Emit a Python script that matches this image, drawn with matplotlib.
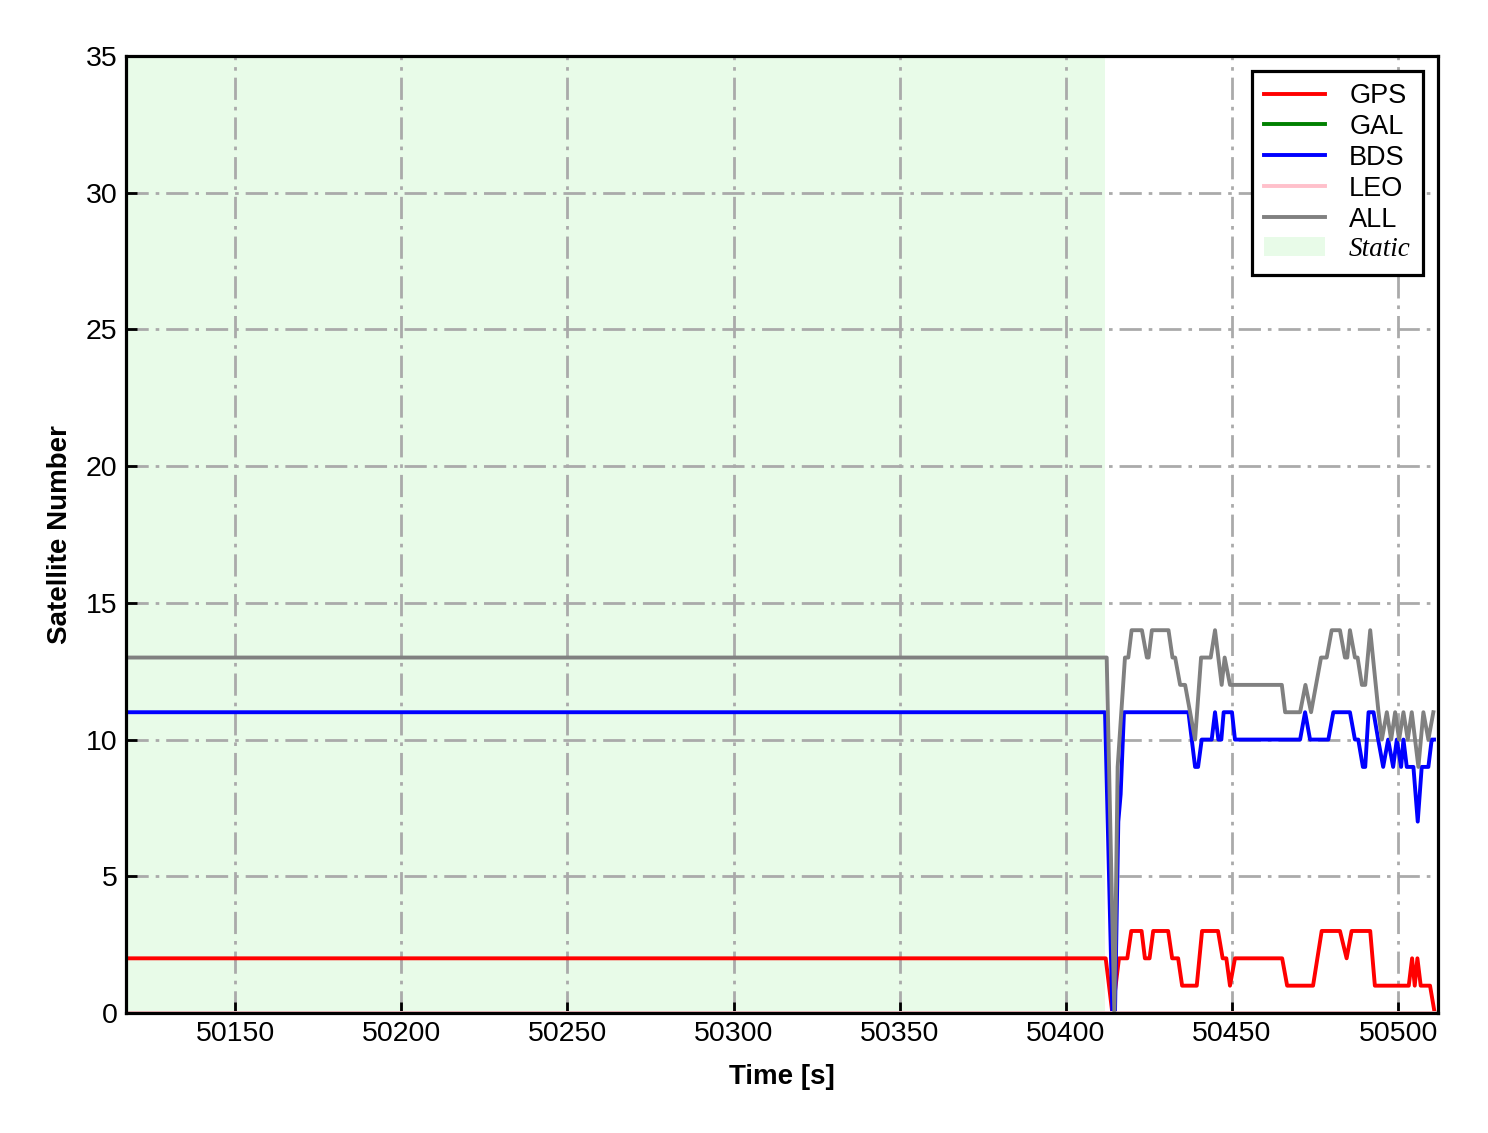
import matplotlib
matplotlib.use("Agg")
import matplotlib.pyplot as plt
from matplotlib.patches import Patch

plt.rcParams['font.family'] = ['Liberation Sans', 'DejaVu Sans']

# ---- data (vertices) ----
t_start = 50117.2
t_end = 50512.0
static_end = 50411.8

gps_t = [50117.2, 50412.0, 50413.0, 50414.0, 50416.0, 50418.5, 50419.7, 50422.8, 50423.8, 50425.2,
         50426.3, 50430.8, 50432.0, 50433.8, 50435.0, 50439.4, 50441.0, 50445.8, 50447.2, 50448.3,
         50449.4, 50450.9, 50465.1, 50466.6, 50474.4, 50477.0, 50482.5, 50484.5, 50486.0, 50491.6,
         50493.0, 50503.2, 50504.2, 50505.0, 50505.8, 50506.8, 50509.6, 50511.0]
gps_v = [2, 2, 1, 0, 2, 2, 3, 3, 2, 2,
         3, 3, 2, 2, 1, 1, 3, 3, 2, 2,
         1, 2, 2, 1, 1, 3, 3, 2, 3, 3,
         1, 1, 2, 1, 2, 1, 1, 0]

gal_t = [50117.2, 50511.0]
gal_v = [0, 0]

bds_t = [50117.2, 50411.8, 50414.0, 50414.8, 50415.8, 50416.5, 50417.5, 50436.9, 50438.9, 50439.8,
         50440.9, 50443.9, 50444.9, 50445.9, 50446.8, 50447.5, 50450.0, 50450.9, 50470.5, 50472.0,
         50473.5, 50479.0, 50480.5, 50485.5, 50487.0, 50488.0, 50489.4, 50490.1, 50491.1, 50492.6,
         50494.0, 50495.5, 50497.0, 50498.5, 50499.6, 50500.9, 50501.6, 50502.6, 50504.6, 50505.9,
         50507.1, 50509.1, 50510.1, 50510.8]
bds_v = [11, 11, 0, 0, 7, 8, 11, 11, 9, 9,
         10, 10, 11, 10, 10, 11, 11, 10, 10, 11,
         10, 10, 11, 11, 10, 10, 9, 9, 11, 11,
         10, 9, 10, 9, 10, 9, 10, 9, 9, 7,
         9, 9, 10, 10]

leo_t = [50117.2, 50511.0]
leo_v = [0, 0]

all_t = [50117.2, 50412.3, 50414.6, 50415.6, 50417.8, 50418.8, 50419.8, 50422.9, 50424.4, 50424.9,
         50425.9, 50430.9, 50432.1, 50432.9, 50434.4, 50435.9, 50438.9, 50440.7, 50443.6, 50444.9,
         50446.9, 50447.8, 50449.4, 50465.0, 50466.0, 50470.5, 50472.1, 50473.8, 50476.8, 50478.5,
         50480.0, 50482.5, 50484.0, 50484.7, 50485.5, 50487.0, 50487.8, 50489.1, 50490.1, 50491.6,
         50494.1, 50495.1, 50496.6, 50497.9, 50499.1, 50500.3, 50501.6, 50502.9, 50504.1, 50506.1,
         50507.6, 50509.1, 50510.6]
all_v = [13, 13, 0, 9, 13, 13, 14, 14, 13, 13,
         14, 14, 13, 13, 12, 12, 10, 13, 13, 14,
         12, 13, 12, 12, 11, 11, 12, 11, 13, 13,
         14, 14, 13, 13, 14, 13, 13, 12, 12, 14,
         11, 10, 11, 10, 11, 10, 11, 10, 11, 9,
         11, 10, 11]

series = [("GPS", gps_t, gps_v, "red"),
          ("GAL", gal_t, gal_v, "green"),
          ("BDS", bds_t, bds_v, "blue"),
          ("LEO", leo_t, leo_v, "pink"),
          ("ALL", all_t, all_v, "gray")]

x_ticks = [50150, 50200, 50250, 50300, 50350, 50400, 50450, 50500]
y_ticks = [0, 5, 10, 15, 20, 25, 30, 35]

# ---- figure ----
fig = plt.figure(figsize=(14.88, 11.33), dpi=100)
ax = fig.add_axes([0.0847, 0.1059, 0.9664 - 0.0847, 0.9506 - 0.1059])

ax.axvspan(t_start, static_end, color='#90ee90', alpha=0.2, lw=0, zorder=0)

handles = []
for name, t, v, c in series:
    h, = ax.plot(t, v, color=c, lw=2.8, label=name, zorder=2)
    handles.append(h)
handles.append(Patch(facecolor='#90ee90', alpha=0.2, edgecolor='none', label='Static'))

ax.set_xlim(t_start, t_end)
ax.set_ylim(0, 35)
ax.set_xticks(x_ticks)
ax.set_yticks(y_ticks)

ax.grid(True, color='#aaaaaa', lw=2.0, linestyle=(0, (8, 2.5, 1.3, 2.5)), zorder=1)
ax.set_axisbelow(True)

for s in ax.spines.values():
    s.set_linewidth(2.3)
    s.set_zorder(3)

ax.tick_params(axis='both', direction='in', length=8, width=2.0, labelsize=20.5, pad=6)
ax.tick_params(top=False, right=False)

ax.set_xlabel("Time [s]", fontsize=20, fontweight='bold', labelpad=12)
ax.set_ylabel("Satellite Number", fontsize=20, fontweight='bold', labelpad=9)

leg = ax.legend(handles=handles, loc='upper right', fontsize=19.5, frameon=True, fancybox=False,
                edgecolor='black', framealpha=1, labelspacing=0.18, handlelength=2.25,
                handletextpad=0.9, borderaxespad=0.55, borderpad=0.45)
leg.get_frame().set_linewidth(2.3)
for txt in leg.get_texts():
    if txt.get_text() == 'Static':
        txt.set_fontfamily(['Liberation Serif', 'DejaVu Serif'])
        txt.set_fontstyle('italic')

fig.savefig("out.png", dpi=100)
